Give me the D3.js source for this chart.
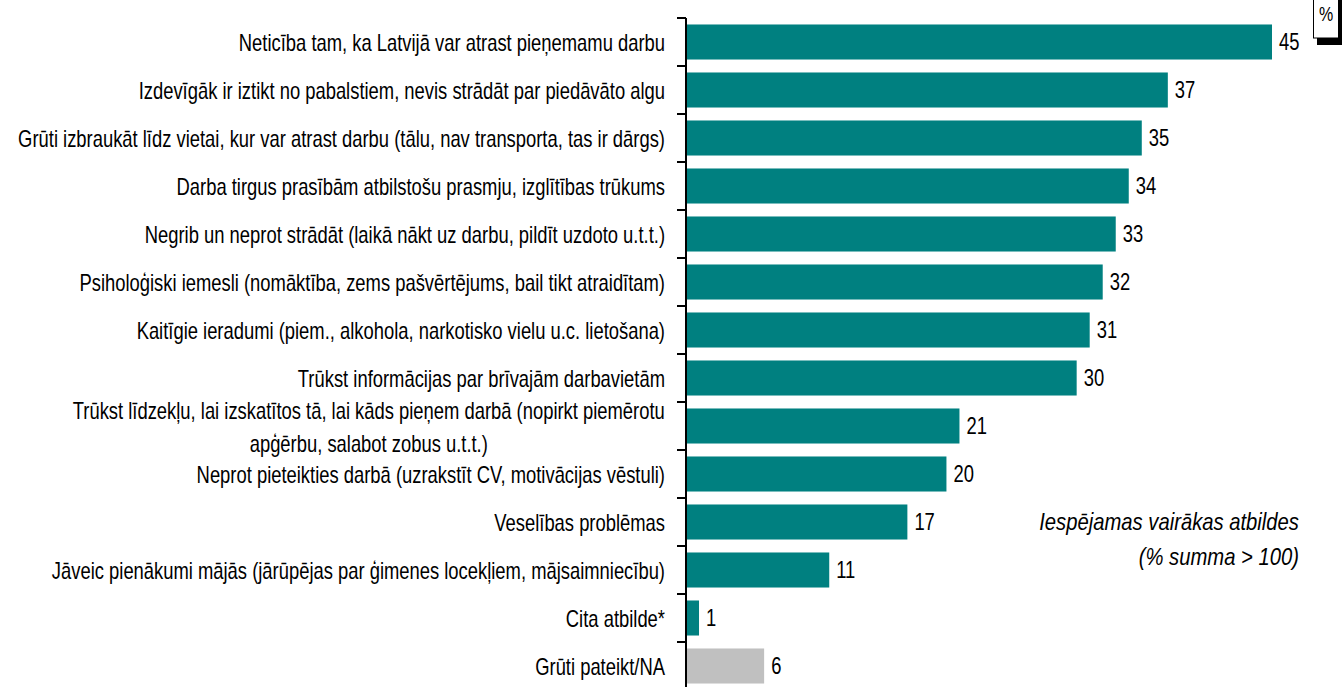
<!DOCTYPE html>
<html>
<head>
<meta charset="utf-8">
<script src="https://cdn.jsdelivr.net/npm/d3@7"></script>
<style>
  body { margin: 0; background: #fff; }
  svg { display: block; font-family: "Liberation Sans", Arial, sans-serif; }
</style>
</head>
<body>
<div id="chart"></div>
<script>
/**
 * DATA
 * */
const categories = [
  "Neticība tam, ka Latvijā var atrast pieņemamu darbu",
  "Izdevīgāk ir iztikt no pabalstiem, nevis strādāt par piedāvāto algu",
  "Grūti izbraukāt līdz vietai, kur var atrast darbu (tālu, nav transporta, tas ir dārgs)",
  "Darba tirgus prasībām atbilstošu prasmju, izglītības trūkums",
  "Negrib un neprot strādāt (laikā nākt uz darbu, pildīt uzdoto u.t.t.)",
  "Psiholoģiski iemesli (nomāktība, zems pašvērtējums, bail tikt atraidītam)",
  "Kaitīgie ieradumi (piem., alkohola, narkotisko vielu u.c. lietošana)",
  "Trūkst informācijas par brīvajām darbavietām",
  "Trūkst līdzekļu, lai izskatītos tā, lai kāds pieņem darbā (nopirkt piemērotu|apģērbu, salabot zobus u.t.t.)",
  "Neprot pieteikties darbā (uzrakstīt CV, motivācijas vēstuli)",
  "Veselības problēmas",
  "Jāveic pienākumi mājās (jārūpējas par ģimenes locekļiem, mājsaimniecību)",
  "Cita atbilde*",
  "Grūti pateikt/NA"
];
const values = [45, 37, 35, 34, 33, 32, 31, 30, 21, 20, 17, 11, 1, 6];
const barColors = ["teal", "teal", "teal", "teal", "teal", "teal", "teal",
  "teal", "teal", "teal", "teal", "teal", "teal", "gray"];
const noteLines = ["Iespējamas vairākas atbildes", "(% summa > 100)"];

/**
 * CONSTANTS
 * */
const width = 1343, height = 687;
const axisX = 686;
const fs = 23;     // font size, text is squeezed sideways like the original
const sx = 0.8;
const colorMap = { teal: "#008080", gray: "#c0c0c0" };

const svg = d3.select("#chart")
  .append("svg")
  .attr("width", width)
  .attr("height", height);

const rows = categories.map((c, i) => ({ key: i, label: c, value: values[i], color: barColors[i] }));

const y = d3.scaleBand()
  .domain(rows.map(d => d.key))
  .range([18, 18 + 48 * rows.length])
  .paddingInner(0.27)
  .paddingOuter(0.135);

const x = d3.scaleLinear()
  .domain([0, 45])
  .range([axisX, 1272]);

const mid = d => y(d.key) + y.bandwidth() / 2;
const squeeze = (px, py, s) => `translate(${px},${py}) scale(${s || sx},1)`;

// bars
svg.selectAll("rect.bar")
  .data(rows)
  .join("rect")
  .attr("class", "bar")
  .attr("x", x(0))
  .attr("y", d => y(d.key))
  .attr("width", d => x(d.value) - x(0))
  .attr("height", y.bandwidth())
  .attr("fill", d => colorMap[d.color]);

// value labels
svg.selectAll("text.val")
  .data(rows)
  .join("text")
  .attr("class", "val")
  .attr("transform", d => squeeze(x(d.value) + 7, mid(d) + 8))
  .attr("font-size", fs)
  .attr("fill", "#000")
  .text(d => d.value);

// category labels (centre aligned block, right edge at 665)
const labels = svg.selectAll("text.cat")
  .data(rows)
  .join("text")
  .attr("class", "cat")
  .attr("font-size", fs)
  .attr("fill", "#000");

labels.each(function(d) {
  const t = d3.select(this);
  const lines = d.label.split("|");
  const cy = mid(d) + 9;
  if (lines.length === 1) {
    t.attr("text-anchor", "end").attr("transform", squeeze(665, cy)).text(lines[0]);
  } else {
    t.attr("text-anchor", "middle");
    lines.forEach((ln, j) => {
      t.append("tspan")
        .attr("x", 0)
        .attr("y", (j - (lines.length - 1) / 2) * 33)
        .text(ln);
    });
    // centre under the widest line, whose right edge sits at 665
    const w = d3.max(t.selectAll("tspan").nodes(), n => n.getComputedTextLength()) * sx;
    t.attr("transform", squeeze(665 - w / 2, cy));
  }
});

// axis with ticks between categories
const bounds = d3.range(rows.length + 1).map(i => 18 + i * 48);
svg.append("line")
  .attr("x1", axisX).attr("x2", axisX)
  .attr("y1", 18).attr("y2", height)
  .attr("stroke", "#000").attr("stroke-width", 2);
svg.selectAll("line.tick")
  .data(bounds)
  .join("line")
  .attr("class", "tick")
  .attr("x1", axisX - 9).attr("x2", axisX)
  .attr("y1", d => d).attr("y2", d => d)
  .attr("stroke", "#000").attr("stroke-width", 2);

// note
svg.selectAll("text.note")
  .data(noteLines)
  .join("text")
  .attr("class", "note")
  .attr("transform", (d, i) => squeeze(1299, 530 + i * 35, 0.88))
  .attr("text-anchor", "end")
  .attr("font-size", fs)
  .attr("font-style", "italic")
  .text(d => d);

// % box with shadow
svg.append("rect")
  .attr("x", 1317).attr("y", -4).attr("width", 25).attr("height", 49)
  .attr("fill", "#000");
svg.append("rect")
  .attr("x", 1313.5).attr("y", -10).attr("width", 25).attr("height", 48)
  .attr("fill", "#fff").attr("stroke", "#000").attr("stroke-width", 1);
svg.append("text")
  .attr("text-anchor", "middle")
  .attr("transform", squeeze(1326, 21))
  .attr("font-size", 20)
  .text("%");
</script>
</body>
</html>
